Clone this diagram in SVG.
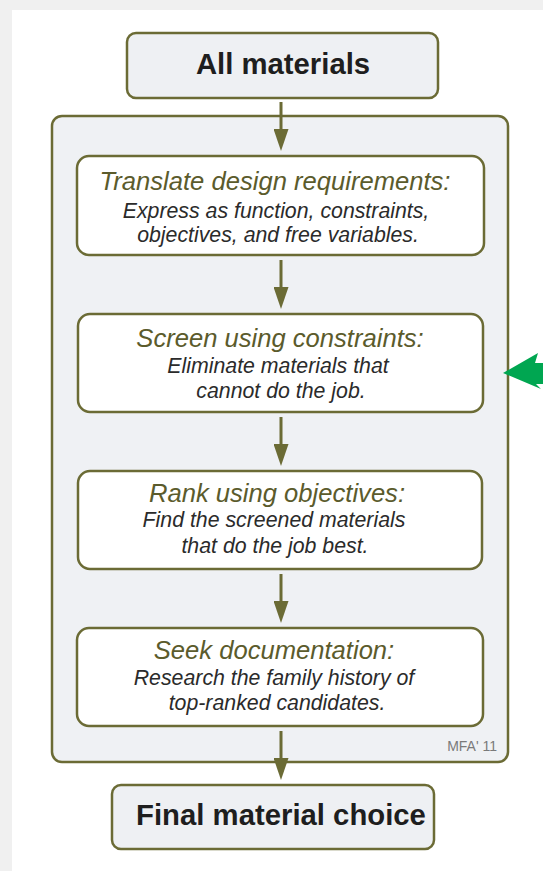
<svg xmlns="http://www.w3.org/2000/svg" width="543" height="871" viewBox="0 0 543 871">
  <style>
    .frame { fill: #eff1f4; stroke: #6b6b35; stroke-width: 2.5; }
    .step { fill: #ffffff; stroke: #6b6b35; stroke-width: 2.5; }
    .end { fill: #eef0f3; stroke: #6b6b35; stroke-width: 2.5; }
    .big { font-family: "Liberation Sans", Arial, sans-serif; font-weight: bold; font-size: 29.3px; fill: #1e1e1e; text-anchor: middle; }
    .head { font-family: "Liberation Sans", Arial, sans-serif; font-style: italic; font-size: 25.6px; fill: #5b5b2c; text-anchor: middle; }
    .body { font-family: "Liberation Sans", Arial, sans-serif; font-style: italic; font-size: 21.3px; fill: #2b2b2b; text-anchor: middle; }
    .note { font-family: "Liberation Sans", Arial, sans-serif; font-size: 14px; fill: #7a7a7a; text-anchor: end; }
    .link { stroke: #6b6b35; stroke-width: 3; fill: none; marker-end: url(#tip); }
  </style>
  <defs>
    <marker id="tip" viewBox="0 0 22 15" markerWidth="22" markerHeight="15" refX="14" refY="7.5" markerUnits="userSpaceOnUse" orient="auto">
      <path d="M0,0 L22,7.5 L0,15 Z" fill="#6b6b35"/>
    </marker>
  </defs>

  <!-- page -->
  <rect x="0" y="0" width="543" height="871" fill="#f0f0f0"/>
  <rect x="12" y="10" width="531" height="861" fill="#ffffff"/>

  <!-- enclosing selection frame -->
  <g id="frame">
    <rect class="frame" x="52" y="116" width="456" height="646" rx="10"/>
    <text class="note" x="497" y="751">MFA' 11</text>
  </g>

  <g id="all-materials">
    <rect class="end" x="127" y="33" width="311" height="65" rx="9"/>
    <text class="big" x="283" y="74">All materials</text>
  </g>

  <g id="translate">
    <rect class="step" x="77" y="156" width="407" height="99" rx="12"/>
    <text class="head" x="275" y="190">Translate design requirements:</text>
    <text class="body" x="276" y="218">Express as function, constraints,</text>
    <text class="body" x="278" y="242">objectives, and free variables.</text>
  </g>

  <g id="screen">
    <rect class="step" x="78" y="314" width="405" height="98" rx="12"/>
    <text class="head" x="280" y="347">Screen using constraints:</text>
    <text class="body" x="278" y="373">Eliminate materials that</text>
    <text class="body" x="281" y="398">cannot do the job.</text>
  </g>

  <g id="rank">
    <rect class="step" x="78" y="471" width="404" height="98" rx="12"/>
    <text class="head" x="277" y="502">Rank using objectives:</text>
    <text class="body" x="274" y="527">Find the screened materials</text>
    <text class="body" x="275" y="553">that do the job best.</text>
  </g>

  <g id="document">
    <rect class="step" x="77" y="628" width="406" height="98" rx="12"/>
    <text class="head" x="274" y="659">Seek documentation:</text>
    <text class="body" x="274" y="685">Research the family history of</text>
    <text class="body" x="277" y="710">top-ranked candidates.</text>
  </g>

  <g id="final-choice">
    <rect class="end" x="112" y="785" width="322" height="64" rx="9"/>
    <text class="big" x="281" y="825">Final material choice</text>
  </g>

  <!-- flow connectors -->
  <g id="connectors">
    <line class="link" x1="281" y1="102" x2="281" y2="143"/>
    <line class="link" x1="281" y1="260" x2="281" y2="301"/>
    <line class="link" x1="281" y1="417" x2="281" y2="458"/>
    <line class="link" x1="281" y1="574" x2="281" y2="615"/>
    <line class="link" x1="281" y1="731" x2="281" y2="772"/>
  </g>

  <!-- side pointer -->
  <g id="pointer">
    <polygon points="503,373 538,353 535,363 543,363 543,384 536,384 541,389" fill="#00a651"/>
  </g>
</svg>
